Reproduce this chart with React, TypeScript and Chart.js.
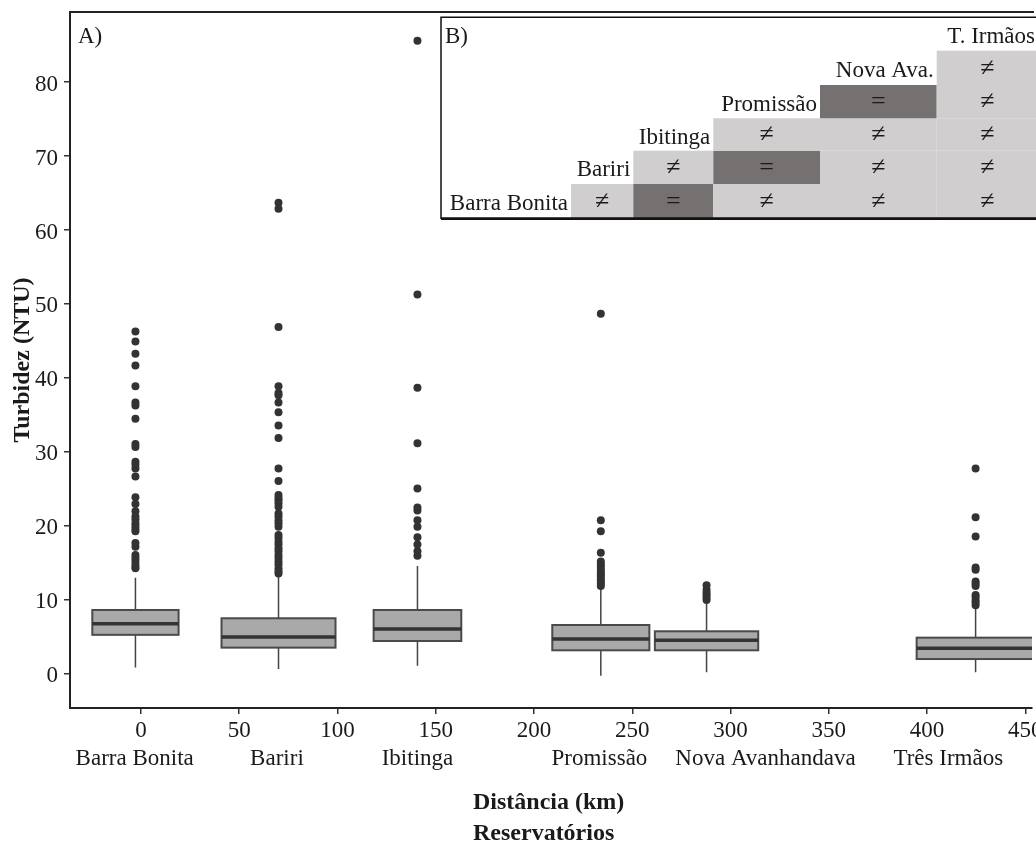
import React, { useEffect, useRef } from 'react';
import { Chart, registerables } from 'chart.js';

Chart.register(...registerables);

// ---------------- DATA ----------------
const reservoirNames = ['Barra Bonita', 'Bariri', 'Ibitinga', 'Promissão', 'Nova Avanhandava', 'Três Irmãos'];
const distanceKm = [-2.8, 70.0, 140.7, 234.0, 287.8, 424.7];
const whiskerLow = [0.8, 0.58, 1.03, -0.32, 0.13, 0.13];
const quartile1 = [5.2, 3.47, 4.37, 3.11, 3.11, 1.93];
const medians = [6.71, 4.91, 5.99, 4.64, 4.46, 3.38];
const quartile3 = [8.56, 7.44, 8.56, 6.53, 5.68, 4.82];
const whiskerHigh = [12.93, 13.07, 14.51, 11.49, 9.55, 8.87];

const outliersBarraBonita = [46.2, 44.85, 43.2, 41.6, 38.8, 36.6, 36.2, 34.4, 31.0, 30.6, 28.6, 28.2, 27.7, 26.6, 23.8, 22.9, 21.9, 21.2, 20.8, 20.3, 19.9, 19.5, 19.2, 17.6, 17.1, 16.0, 15.6, 15.2, 14.8, 14.4, 14.2];
const outliersBariri = [63.6, 62.8, 46.8, 38.8, 37.9, 37.6, 36.6, 35.3, 33.5, 31.8, 27.7, 26.0, 24.1, 23.7, 23.4, 23.0, 22.5, 21.6, 21.2, 20.7, 20.3, 19.8, 18.7, 18.3, 17.8, 17.4, 16.9, 16.5, 16.0, 15.6, 15.1, 14.7, 14.2, 13.8, 13.5];
const outliersIbitinga = [85.5, 51.2, 38.6, 31.1, 25.0, 22.4, 22.0, 20.7, 19.8, 18.4, 17.4, 16.5, 15.9];
const outliersPromissao = [48.6, 20.7, 19.2, 16.3, 15.1, 14.7, 14.4, 14.0, 13.7, 13.4, 13.1, 12.7, 12.4, 12.1, 11.8];
const outliersNovaAvanhandava = [11.9, 11.3, 10.9, 10.6, 10.2, 9.9];
const outliersTresIrmaos = [27.7, 21.1, 18.5, 14.3, 14.0, 12.4, 12.1, 11.8, 10.6, 10.3, 9.9, 9.6, 9.2];
const outliers = [outliersBarraBonita, outliersBariri, outliersIbitinga, outliersPromissao, outliersNovaAvanhandava, outliersTresIrmaos];

const kmTickValues = [0, 50, 100, 150, 200, 250, 300, 350, 400, 450];
const nameTickKm = [-3.2, 69.2, 140.7, 233.3, 317.8, 410.8];
const yTickValues = [0, 10, 20, 30, 40, 50, 60, 70, 80];

// Inset B: pairwise comparisons (row reservoir vs the reservoirs after it)
const tableLabels = ['Barra Bonita', 'Bariri', 'Ibitinga', 'Promissão', 'Nova Ava.', 'T. Irmãos'];
const compareBarraBonita = ['≠', '=', '≠', '≠', '≠'];
const compareBariri = ['≠', '=', '≠', '≠'];
const compareIbitinga = ['≠', '≠', '≠'];
const comparePromissao = ['=', '≠'];
const compareNovaAva = ['≠'];
const comparisons = [compareBarraBonita, compareBariri, compareIbitinga, comparePromissao, compareNovaAva, []];

// ---------------- SIZES / STYLES ----------------
const boxWidthKm = [43.9, 58, 44.6, 49.4, 52.6, 60];
const X_MIN = -36.1;
const X_MAX = 453.4;
const Y_MIN = -4.69;
const Y_MAX = 89.4;
const SERIF = '"Liberation Serif", "Times New Roman", serif';
const TEXT = '#1a1a1a';

const boxPlugin = {
  id: 'boxes',
  beforeDatasetsDraw(chart: any) {
    const { ctx, chartArea, scales } = chart;
    const x = scales.x;
    const y = scales.y;
    ctx.save();
    ctx.beginPath();
    ctx.rect(chartArea.left, chartArea.top, chartArea.right - chartArea.left, chartArea.bottom - chartArea.top);
    ctx.clip();
    for (let i = 0; i < distanceKm.length; i++) {
      const cx = x.getPixelForValue(distanceKm[i]);
      const l = x.getPixelForValue(distanceKm[i] - boxWidthKm[i] / 2);
      const r = x.getPixelForValue(distanceKm[i] + boxWidthKm[i] / 2);
      const yLo = y.getPixelForValue(whiskerLow[i]);
      const yQ1 = y.getPixelForValue(quartile1[i]);
      const yMed = y.getPixelForValue(medians[i]);
      const yQ3 = y.getPixelForValue(quartile3[i]);
      const yHi = y.getPixelForValue(whiskerHigh[i]);
      ctx.strokeStyle = '#444';
      ctx.lineWidth = 1.5;
      ctx.beginPath();
      ctx.moveTo(cx, yHi);
      ctx.lineTo(cx, yQ3);
      ctx.moveTo(cx, yQ1);
      ctx.lineTo(cx, yLo);
      ctx.stroke();
      ctx.fillStyle = '#a9a9a9';
      ctx.fillRect(l, yQ3, r - l, yQ1 - yQ3);
      ctx.strokeStyle = '#4a4a4a';
      ctx.lineWidth = 2;
      ctx.strokeRect(l, yQ3, r - l, yQ1 - yQ3);
      ctx.strokeStyle = '#333';
      ctx.lineWidth = 3.5;
      ctx.beginPath();
      ctx.moveTo(l, yMed);
      ctx.lineTo(r, yMed);
      ctx.stroke();
    }
    ctx.restore();
  },
};

const overlayPlugin = {
  id: 'overlay',
  afterDraw(chart: any) {
    const { ctx, chartArea } = chart;
    ctx.save();
    // top border of panel
    ctx.strokeStyle = '#222';
    ctx.lineWidth = 2;
    ctx.beginPath();
    ctx.moveTo(chartArea.left - 1, chartArea.top);
    ctx.lineTo(chartArea.right + 2, chartArea.top);
    ctx.stroke();

    ctx.fillStyle = TEXT;
    ctx.font = `23px ${SERIF}`;
    ctx.textAlign = 'left';
    ctx.textBaseline = 'alphabetic';
    ctx.fillText('A)', 78, 43.3);

    // ---- inset B ----
    const colEdges = [441, 571, 633.3, 713.3, 820, 936.7, 1038];
    const rowEdges = [17.3, 50.7, 85, 118.3, 150.7, 184, 218.3];
    const n = tableLabels.length;
    ctx.fillStyle = '#ffffff';
    ctx.fillRect(colEdges[0], rowEdges[0], colEdges[n] - colEdges[0] + 10, rowEdges[n] - rowEdges[0]);
    for (let i = 0; i < n; i++) {
      const row = n - 1 - i;
      const top = rowEdges[row];
      const bottom = rowEdges[row + 1];
      const cy = (top + bottom) / 2;
      ctx.fillStyle = TEXT;
      ctx.font = `23px ${SERIF}`;
      ctx.textAlign = 'right';
      ctx.textBaseline = 'middle';
      ctx.fillText(tableLabels[i], colEdges[i + 1] - 3, cy + 3);
      const comps = comparisons[i];
      for (let k = 0; k < comps.length; k++) {
        const j = i + 1 + k;
        const left = colEdges[j];
        const right = j + 1 === n ? colEdges[j + 1] + 10 : colEdges[j + 1];
        const same = comps[k] === '=';
        ctx.fillStyle = same ? '#767171' : '#d0cece';
        ctx.fillRect(left, top, right - left, bottom - top);
      }
    }
    for (let i = 0; i < n; i++) {
      const row = n - 1 - i;
      const cy = (rowEdges[row] + rowEdges[row + 1]) / 2;
      const comps = comparisons[i];
      for (let k = 0; k < comps.length; k++) {
        const j = i + 1 + k;
        const cx = (colEdges[j] + colEdges[j + 1]) / 2;
        ctx.fillStyle = TEXT;
        ctx.font = `26px ${SERIF}`;
        ctx.textAlign = 'center';
        ctx.textBaseline = 'middle';
        ctx.fillText(comps[k], cx, cy + 1);
      }
    }
    ctx.fillStyle = TEXT;
    ctx.font = `23px ${SERIF}`;
    ctx.textAlign = 'left';
    ctx.textBaseline = 'alphabetic';
    ctx.fillText('B)', 445, 43.3);
    ctx.strokeStyle = '#111';
    ctx.lineWidth = 1.5;
    ctx.beginPath();
    ctx.moveTo(colEdges[n] + 10, rowEdges[0]);
    ctx.lineTo(colEdges[0], rowEdges[0]);
    ctx.lineTo(colEdges[0], rowEdges[n]);
    ctx.lineTo(colEdges[n] + 10, rowEdges[n]);
    ctx.stroke();
    ctx.lineWidth = 2.5;
    ctx.beginPath();
    ctx.moveTo(colEdges[0], rowEdges[n] + 0.5);
    ctx.lineTo(colEdges[n] + 10, rowEdges[n] + 0.5);
    ctx.stroke();

    // ---- x axis titles ----
    ctx.fillStyle = TEXT;
    ctx.font = `bold 24px ${SERIF}`;
    ctx.textAlign = 'left';
    ctx.textBaseline = 'alphabetic';
    ctx.fillText('Distância (km)', 473, 809);
    ctx.fillText('Reservatórios', 473, 840);
    ctx.restore();
  },
};

export default function App() {
  const canvasRef = useRef<HTMLCanvasElement | null>(null);

  useEffect(() => {
    if (!canvasRef.current) return;
    const points: { x: number; y: number }[] = [];
    outliers.forEach((list, i) => {
      list.forEach((v) => points.push({ x: distanceKm[i], y: v }));
    });

    const tickFont = { family: SERIF, size: 23, lineHeight: 1 };

    const chart = new Chart(canvasRef.current, {
      type: 'scatter',
      data: {
        datasets: [
          {
            label: 'Outliers',
            data: points,
            pointRadius: 4,
            pointBackgroundColor: '#333333',
            pointBorderWidth: 0,
            pointHoverRadius: 4,
            showLine: false,
          },
        ],
      },
      plugins: [boxPlugin, overlayPlugin],
      options: {
        responsive: false,
        animation: false,
        events: [],
        layout: { padding: { top: 12, left: 0, right: 0, bottom: 0 } },
        plugins: {
          legend: { display: false },
          tooltip: { enabled: false },
        },
        scales: {
          x: {
            type: 'linear',
            position: 'bottom',
            weight: 0,
            min: X_MIN,
            max: X_MAX,
            afterBuildTicks: (scale: any) => {
              scale.ticks = kmTickValues.map((v) => ({ value: v }));
            },
            afterFit: (scale: any) => {
              scale.height = 36;
              scale.paddingLeft = 0;
              scale.paddingRight = 0;
            },
            ticks: {
              autoSkip: false,
              maxRotation: 0,
              minRotation: 0,
              padding: 5,
              color: TEXT,
              font: tickFont,
              callback: (v: any) => String(v),
            },
            grid: { display: true, drawOnChartArea: false, drawTicks: true, tickLength: 6, color: '#333', lineWidth: 1.5 },
            border: { display: true, color: '#222', width: 2 },
          },
          x2: {
            type: 'linear',
            position: 'bottom',
            weight: 1,
            min: X_MIN,
            max: X_MAX,
            afterBuildTicks: (scale: any) => {
              scale.ticks = nameTickKm.map((v) => ({ value: v }));
            },
            afterFit: (scale: any) => {
              scale.height = 98;
              scale.paddingLeft = 0;
              scale.paddingRight = 0;
            },
            ticks: {
              autoSkip: false,
              maxRotation: 0,
              minRotation: 0,
              padding: 3,
              color: TEXT,
              font: tickFont,
              callback: (_v: any, idx: number) => reservoirNames[idx],
            },
            grid: { display: false, drawTicks: false, drawOnChartArea: false },
            border: { display: false },
          },
          y: {
            type: 'linear',
            position: 'left',
            min: Y_MIN,
            max: Y_MAX,
            afterBuildTicks: (scale: any) => {
              scale.ticks = yTickValues.map((v) => ({ value: v }));
            },
            afterFit: (scale: any) => {
              scale.width = 70;
              scale.paddingTop = 0;
              scale.paddingBottom = 0;
            },
            ticks: {
              padding: 6,
              labelOffset: 3,
              color: TEXT,
              font: tickFont,
              callback: (v: any) => String(v),
            },
            grid: { display: true, drawOnChartArea: false, drawTicks: true, tickLength: 6, color: '#333', lineWidth: 1.5 },
            border: { display: true, color: '#222', width: 2 },
            title: {
              display: true,
              text: 'Turbidez (NTU)',
              color: TEXT,
              font: { family: SERIF, size: 24, weight: 'bold', lineHeight: 1 },
              padding: { top: 11, bottom: 0 },
            },
          },
        },
      },
    } as any);

    return () => chart.destroy();
  }, []);

  return (
    <div style={{ position: 'absolute', left: 0, top: 0, width: 1036, height: 842, background: '#fff', overflow: 'hidden' }}>
      <canvas ref={canvasRef} width={1036} height={842} style={{ display: 'block' }} />
    </div>
  );
}
